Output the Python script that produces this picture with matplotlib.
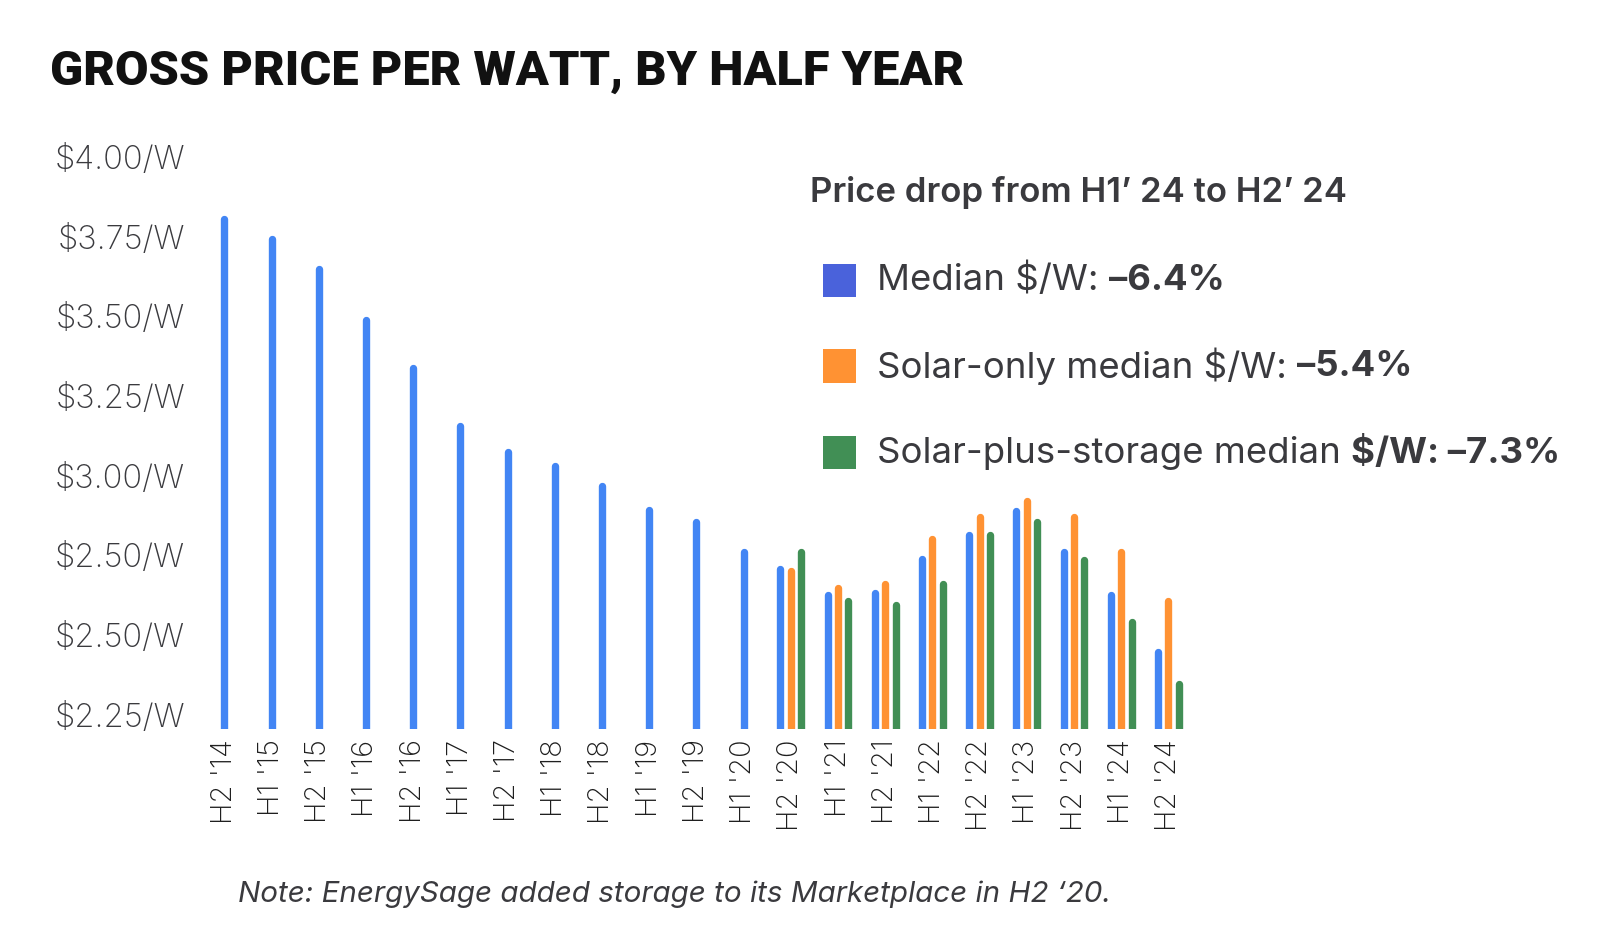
import matplotlib
matplotlib.use("Agg")
import matplotlib.pyplot as plt
import numpy as np

# ---- data ----
categories = ["H2 '14", "H1 '15", "H2 '15", "H1 '16", "H2 '16", "H1 '17", "H2 '17",
              "H1 '18", "H2 '18", "H1 '19", "H2 '19", "H1 '20", "H2 '20", "H1 '21",
              "H2 '21", "H1 '22", "H2 '22", "H1 '23", "H2 '23", "H1 '24", "H2 '24"]
median = [3.805, 3.744, 3.649, 3.490, 3.338, 3.156, 3.075, 3.032, 2.968, 2.893,
          2.854, 2.760, 2.708, 2.627, 2.633, 2.740, 2.815, 2.890, 2.760, 2.627, 2.448]
# solar-only and solar-plus-storage begin at H2 '20
grouped_categories = categories[12:]
solar_only = [2.701, 2.646, 2.659, 2.802, 2.870, 2.922, 2.870, 2.760, 2.607]
solar_storage = [2.760, 2.607, 2.594, 2.659, 2.815, 2.854, 2.734, 2.542, 2.347]
ytick_values = [4.00, 3.75, 3.50, 3.25, 3.00, 2.75, 2.50, 2.25]
ytick_labels = ["$4.00/W", "$3.75/W", "$3.50/W", "$3.25/W", "$3.00/W",
                "$2.50/W", "$2.50/W", "$2.25/W"]

BLUE = "#4285F4"
ORANGE = "#FF9233"
GREEN = "#418F55"
LEG_BLUE = "#4A62DB"
TXT = "#3a3a3e"

plt.rcParams['font.family'] = ['Inter', 'DejaVu Sans']

W, H = 1620, 942
K = 1.034  # layout scale


def px(v):
    return v * K


fig = plt.figure(figsize=(W / 100, H / 100), dpi=100)
fig.patch.set_facecolor("white")

ax_left, ax_right = px(195), px(1160)
ax_bottom, ax_top = px(705), px(152)
ax = fig.add_axes([ax_left / W, (H - ax_bottom) / H,
                   (ax_right - ax_left) / W, (ax_bottom - ax_top) / H])
ymin = 2.205
ax.set_ylim(ymin, 4.0)
first_x, last_x = px(217), px(1130)
step = (last_x - first_x) / 20
ax.set_xlim((ax_left - first_x) / step, (ax_right - first_x) / step)

x = np.arange(len(categories))
off = px(10) / step
lw = 5.3
n_single = len(categories) - len(grouped_categories)
xb = np.array([xi if i < n_single else xi - off for i, xi in enumerate(x)], dtype=float)
lc = ax.vlines(xb, ymin - 0.1, median, colors=BLUE, linewidth=lw)
lc.set_capstyle("round")
xg = x[n_single:]
lc2 = ax.vlines(xg, ymin - 0.1, solar_only, colors=ORANGE, linewidth=lw)
lc2.set_capstyle("round")
lc3 = ax.vlines(xg + off, ymin - 0.1, solar_storage, colors=GREEN, linewidth=lw)
lc3.set_capstyle("round")

for s in ax.spines.values():
    s.set_visible(False)
ax.set_yticks(ytick_values)
ax.set_yticklabels(ytick_labels, fontsize=23.5, color=TXT, fontweight="light")
ax.set_xticks(x)
ax.set_xticklabels(categories, rotation=90, fontsize=21, color="#1e1e1e",
                   fontweight="light", va="top", ha="center")
ax.tick_params(axis="both", length=0)
ax.tick_params(axis="y", pad=12)
ax.tick_params(axis="x", pad=7.5)

# title
fig.text(px(48) / W, 1 - px(69) / H, "GROSS PRICE PER WATT, BY HALF YEAR", fontsize=35,
         fontweight="black", color="#111111", va="center", ha="left",
         family=["Roboto", "DejaVu Sans"])

# legend
fig.text(px(783) / W, 1 - px(186) / H, "Price drop from H1\u2019 24 to H2\u2019 24", fontsize=25,
         fontweight="semibold", color=TXT, va="center", ha="left")

legend_rows = [
    (LEG_BLUE, "Median $/W: ", "\u20136.4%", 271),
    (ORANGE, "Solar-only median $/W: ", "\u20135.4%", 354),
    (GREEN, "Solar-plus-storage median ", "$/W: \u20137.3%", 438),
]
for color, regular, bold, yc in legend_rows:
    fig.patches.append(matplotlib.patches.Rectangle(
        (px(796) / W, 1 - px(yc + 16) / H), px(32) / W, px(32) / H,
        transform=fig.transFigure, facecolor=color, edgecolor="none"))
    t = fig.text(px(848) / W, 1 - px(yc) / H, regular, fontsize=26.3, color=TXT,
                 va="center", ha="left")
    fig.canvas.draw()
    ax.annotate(bold, xy=(1, 0.5), xycoords=t, fontsize=26.3, fontweight="bold",
                color=TXT, va="center", ha="left", annotation_clip=False)

# note
fig.text(px(652) / W, 1 - px(865) / H,
         "Note: EnergySage added storage to its Marketplace in H2 \u201820.",
         fontsize=21.3, fontstyle="italic", color=TXT, va="center", ha="center")

fig.savefig("out.png", dpi=100, facecolor="white")
